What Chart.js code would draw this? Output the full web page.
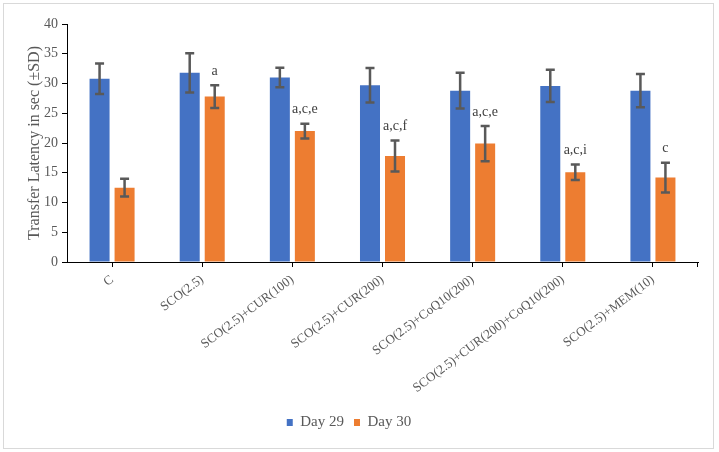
<!DOCTYPE html>
<html lang="en">
<head>
    <meta charset="UTF-8">
    <title>Transfer Latency</title>
    <script src="https://cdn.jsdelivr.net/npm/chart.js"></script>
    <style>
        html, body { margin: 0; padding: 0; background: #fff; }
        .chart-container { position: relative; width: 719px; height: 452px; }
    </style>
</head>
<body>
    <div class="chart-container">
        <canvas id="latencyChart"></canvas>
    </div>

    <script>
        const groups = ['C', 'SCO(2.5)', 'SCO(2.5)+CUR(100)', 'SCO(2.5)+CUR(200)', 'SCO(2.5)+CoQ10(200)',
                        'SCO(2.5)+CUR(200)+CoQ10(200)', 'SCO(2.5)+MEM(10)'];
        const day29 = [30.8, 31.8, 31.0, 29.7, 28.8, 29.6, 28.8];
        const sd29 = [2.55, 3.3, 1.65, 2.9, 3.0, 2.7, 2.8];
        const day30 = [12.5, 27.8, 22.0, 17.8, 19.9, 15.1, 14.2];
        const sd30 = [1.5, 1.9, 1.25, 2.6, 2.95, 1.3, 2.5];
        const marks30 = ['', 'a', 'a,c,e', 'a,c,f', 'a,c,e', 'a,c,i', 'c'];
        const yTicks = [0, 5, 10, 15, 20, 25, 30, 35, 40];

        const serif = '"Liberation Serif", "Times New Roman", serif';
        const gray = '#595959';

        // frame round the whole picture, plus the end tick of the x axis
        const framePlugin = {
            id: 'frame',
            beforeDraw(chart) {
                const ctx = chart.ctx;
                ctx.save();
                ctx.strokeStyle = '#d9d9d9';
                ctx.lineWidth = 1;
                ctx.strokeRect(3.5, 3.5, 710, 445);
                ctx.restore();
            },
            afterDraw(chart) {
                const ctx = chart.ctx;
                const a = chart.chartArea;
                ctx.save();
                ctx.strokeStyle = '#000';
                ctx.lineWidth = 1;
                ctx.beginPath();
                ctx.moveTo(Math.round(a.right) - 0.5, a.bottom);
                ctx.lineTo(Math.round(a.right) - 0.5, a.bottom + 5);
                ctx.stroke();
                ctx.restore();
            }
        };

        // error bars and significance letters
        const errorBarPlugin = {
            id: 'errorBars',
            afterDatasetsDraw(chart) {
                const ctx = chart.ctx;
                const y = chart.scales.y;
                const sds = [sd29, sd30];
                ctx.save();
                chart.data.datasets.forEach((ds, di) => {
                    const meta = chart.getDatasetMeta(di);
                    meta.data.forEach((bar, i) => {
                        const v = ds.data[i];
                        const top = y.getPixelForValue(v + sds[di][i]);
                        const bot = y.getPixelForValue(v - sds[di][i]);
                        ctx.strokeStyle = '#595959';
                        ctx.lineWidth = 2.5;
                        ctx.beginPath();
                        ctx.moveTo(bar.x, top);
                        ctx.lineTo(bar.x, bot);
                        ctx.moveTo(bar.x - 4.5, top);
                        ctx.lineTo(bar.x + 4.5, top);
                        ctx.moveTo(bar.x - 4.5, bot);
                        ctx.lineTo(bar.x + 4.5, bot);
                        ctx.stroke();
                        if (di === 1 && marks30[i]) {
                            ctx.fillStyle = '#404040';
                            ctx.font = '14px ' + serif;
                            ctx.textAlign = 'center';
                            ctx.textBaseline = 'middle';
                            ctx.fillText(marks30[i], bar.x, top - 14);
                        }
                    });
                });
                ctx.restore();
            }
        };

        const ctx = document.getElementById('latencyChart').getContext('2d');
        new Chart(ctx, {
            type: 'bar',
            data: {
                labels: groups,
                datasets: [{
                    label: 'Day 29',
                    data: day29,
                    backgroundColor: '#4472C4'
                }, {
                    label: 'Day 30',
                    data: day30,
                    backgroundColor: '#ED7D31'
                }]
            },
            options: {
                responsive: true,
                maintainAspectRatio: false,
                animation: false,
                categoryPercentage: 0.555,
                barPercentage: 0.8,
                layout: { padding: { top: 24, right: 21, left: 0, bottom: 12 } },
                plugins: {
                    tooltip: { enabled: false },
                    legend: {
                        position: 'bottom',
                        labels: {
                            boxWidth: 6,
                            boxHeight: 7,
                            color: gray,
                            font: { family: serif, size: 15 },
                            padding: 10
                        }
                    }
                },
                scales: {
                    x: {
                        afterFit(scale) { scale.height = 143; },
                        grid: {
                            offset: false,
                            drawOnChartArea: false,
                            drawTicks: true,
                            tickLength: 5,
                            color: '#000'
                        },
                        border: { color: '#000', width: 1 },
                        ticks: {
                            color: gray,
                            font: { family: serif, size: 13 },
                            minRotation: 37,
                            maxRotation: 37,
                            padding: 5,
                            autoSkip: false
                        }
                    },
                    y: {
                        min: 0,
                        max: 40,
                        afterFit(scale) { scale.width = 67; },
                        afterBuildTicks(scale) { scale.ticks = yTicks.map(v => ({ value: v })); },
                        grid: {
                            drawOnChartArea: false,
                            drawTicks: true,
                            tickLength: 5,
                            color: '#000'
                        },
                        border: { color: '#000', width: 1 },
                        ticks: {
                            color: gray,
                            font: { family: serif, size: 14 },
                            padding: 4
                        },
                        title: {
                            display: true,
                            text: 'Transfer Latency in sec (\u00B1SD)',
                            color: gray,
                            font: { family: serif, size: 16 },
                            padding: { top: 25, bottom: 0 }
                        }
                    }
                }
            },
            plugins: [framePlugin, errorBarPlugin]
        });
    </script>
</body>
</html>
